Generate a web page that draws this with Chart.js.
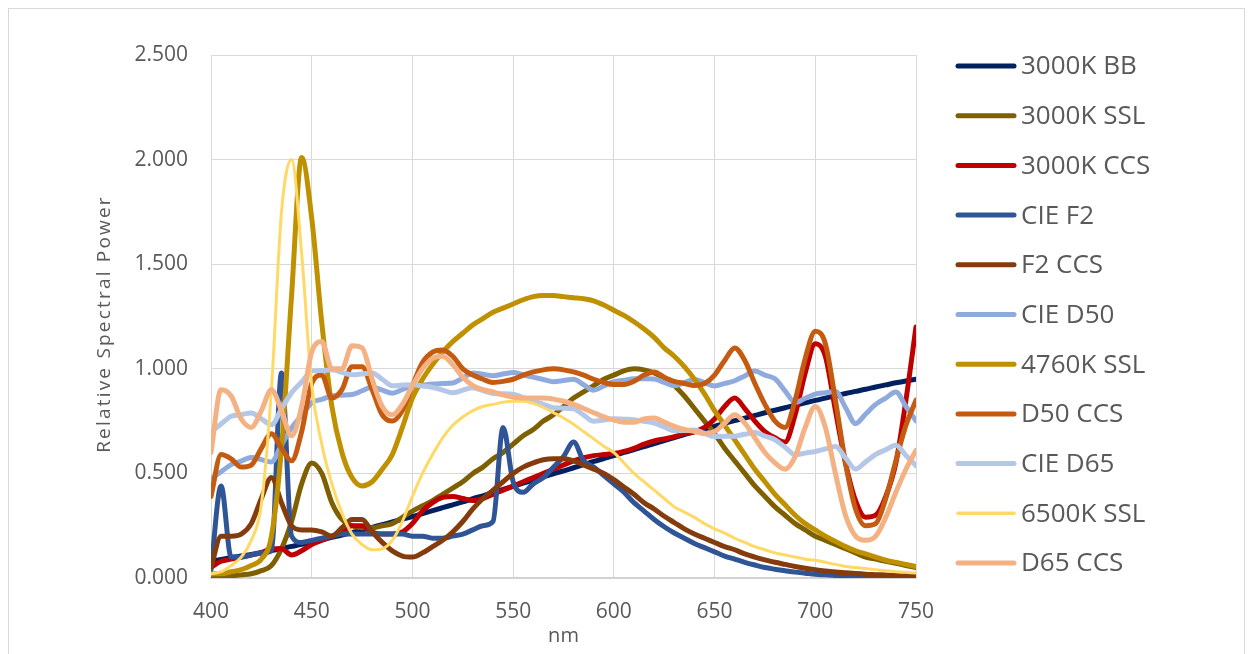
<!DOCTYPE html>
<html>
<head>
<meta charset="utf-8">
<script src="https://cdn.jsdelivr.net/npm/chart.js@4.4.1/dist/chart.umd.min.js"></script>
<style>
  html, body { margin: 0; padding: 0; background: #ffffff; }
  #wrap { position: relative; width: 1252px; height: 654px; overflow: hidden; background: #ffffff; }
  #frame { position: absolute; left: 8px; top: 8px; width: 1237px; height: 700px; border: 1px solid #D9D9D9; box-sizing: border-box; }
  #c { position: absolute; left: 0; top: 0; }
</style>
</head>
<body>
<div id="wrap">
  <div id="frame"></div>
  <canvas id="c" width="1252" height="654"></canvas>
</div>
<script>
// Wavelength grid (nm)
const wavelengths = [
  400,405,410,415,420,425,430,435,440,445,
  450,455,460,465,470,475,480,485,490,495,
  500,505,510,515,520,525,530,535,540,545,
  550,555,560,565,570,575,580,585,590,595,
  600,605,610,615,620,625,630,635,640,645,
  650,655,660,665,670,675,680,685,690,695,
  700,705,710,715,720,725,730,735,740,745,
  750
];

// Relative spectral power of each source
const bb3000 = [
  0.082,0.089,0.097,0.105,0.113,0.122,0.131,0.141,0.151,0.161,
  0.172,0.183,0.194,0.205,0.217,0.229,0.242,0.255,0.268,0.281,
  0.294,0.308,0.322,0.336,0.350,0.364,0.379,0.393,0.408,0.423,
  0.438,0.453,0.468,0.483,0.498,0.512,0.527,0.542,0.557,0.571,
  0.585,0.600,0.614,0.628,0.643,0.657,0.671,0.685,0.699,0.712,
  0.725,0.739,0.752,0.764,0.777,0.790,0.802,0.814,0.826,0.837,
  0.849,0.860,0.871,0.882,0.892,0.902,0.913,0.923,0.933,0.942,
  0.950
];
const ssl3000 = [
  0.002,0.005,0.010,0.015,0.020,0.035,0.060,0.140,0.270,0.450,
  0.550,0.500,0.360,0.280,0.250,0.240,0.240,0.250,0.260,0.290,
  0.320,0.345,0.370,0.400,0.430,0.460,0.500,0.530,0.570,0.600,
  0.640,0.680,0.710,0.750,0.780,0.820,0.860,0.890,0.920,0.950,
  0.970,0.990,1.000,0.995,0.980,0.955,0.920,0.870,0.810,0.750,
  0.690,0.620,0.560,0.500,0.440,0.390,0.340,0.300,0.260,0.230,
  0.200,0.180,0.160,0.140,0.120,0.100,0.090,0.080,0.070,0.060,
  0.050
];
const ccs3000 = [
  0.050,0.080,0.090,0.100,0.110,0.120,0.140,0.140,0.110,0.130,
  0.160,0.180,0.200,0.220,0.250,0.250,0.220,0.210,0.210,0.220,
  0.260,0.320,0.360,0.385,0.390,0.380,0.370,0.380,0.400,0.420,
  0.440,0.460,0.480,0.500,0.520,0.540,0.560,0.575,0.585,0.590,
  0.595,0.605,0.620,0.640,0.655,0.665,0.675,0.690,0.700,0.720,
  0.760,0.820,0.860,0.810,0.750,0.700,0.670,0.650,0.780,0.980,
  1.120,1.060,0.800,0.550,0.370,0.290,0.300,0.390,0.550,0.850,
  1.200
];
const cieF2 = [
  0.040,0.440,0.100,0.100,0.110,0.120,0.130,0.980,0.200,0.170,
  0.180,0.190,0.200,0.210,0.210,0.210,0.210,0.210,0.210,0.210,
  0.200,0.200,0.190,0.190,0.200,0.210,0.230,0.250,0.270,0.720,
  0.460,0.410,0.450,0.480,0.530,0.580,0.650,0.560,0.530,0.490,
  0.450,0.410,0.360,0.320,0.280,0.245,0.215,0.190,0.165,0.145,
  0.125,0.105,0.090,0.075,0.062,0.050,0.042,0.035,0.028,0.023,
  0.018,0.015,0.012,0.010,0.008,0.007,0.006,0.005,0.004,0.004,
  0.003
];
const f2Ccs = [
  0.050,0.200,0.200,0.210,0.260,0.380,0.480,0.360,0.250,0.230,
  0.230,0.220,0.200,0.240,0.280,0.280,0.220,0.170,0.130,0.105,
  0.100,0.120,0.150,0.180,0.220,0.270,0.330,0.380,0.420,0.460,
  0.500,0.530,0.550,0.565,0.570,0.570,0.560,0.540,0.520,0.500,
  0.470,0.435,0.400,0.360,0.330,0.295,0.265,0.235,0.210,0.190,
  0.170,0.150,0.135,0.115,0.100,0.087,0.075,0.065,0.055,0.047,
  0.040,0.034,0.029,0.025,0.021,0.018,0.016,0.014,0.012,0.011,
  0.010
];
const cieD50 = [
  0.473,0.508,0.542,0.559,0.576,0.566,0.555,0.637,0.718,0.778,
  0.838,0.854,0.870,0.874,0.877,0.895,0.913,0.898,0.883,0.901,
  0.919,0.923,0.927,0.930,0.932,0.956,0.980,0.974,0.967,0.975,
  0.982,0.971,0.960,0.949,0.938,0.944,0.950,0.924,0.898,0.918,
  0.938,0.945,0.953,0.952,0.951,0.935,0.919,0.934,0.949,0.934,
  0.918,0.930,0.943,0.966,0.989,0.970,0.952,0.895,0.839,0.859,
  0.879,0.886,0.892,0.815,0.738,0.784,0.830,0.860,0.889,0.820,
  0.751
];
const ssl4760 = [
  0.020,0.020,0.030,0.040,0.060,0.090,0.200,0.620,1.350,2.010,
  1.720,1.220,0.820,0.600,0.480,0.440,0.460,0.520,0.590,0.720,
  0.860,0.950,1.020,1.080,1.130,1.170,1.210,1.240,1.270,1.290,
  1.310,1.330,1.345,1.350,1.350,1.345,1.340,1.335,1.325,1.305,
  1.280,1.255,1.225,1.190,1.150,1.100,1.060,1.010,0.950,0.880,
  0.800,0.730,0.660,0.590,0.520,0.460,0.400,0.350,0.300,0.260,
  0.230,0.200,0.175,0.150,0.130,0.115,0.100,0.085,0.075,0.065,
  0.055
];
const d50Ccs = [
  0.390,0.590,0.570,0.530,0.540,0.620,0.690,0.620,0.560,0.700,
  0.930,0.970,0.860,0.900,1.010,1.010,0.900,0.780,0.750,0.800,
  0.920,1.030,1.080,1.090,1.060,1.000,0.970,0.950,0.935,0.940,
  0.950,0.970,0.985,0.995,1.000,0.995,0.985,0.970,0.950,0.935,
  0.925,0.925,0.940,0.970,0.985,0.960,0.940,0.930,0.920,0.930,
  0.970,1.040,1.100,1.040,0.930,0.830,0.750,0.720,0.850,1.050,
  1.180,1.120,0.850,0.550,0.330,0.250,0.260,0.380,0.560,0.730,
  0.850
];
const cieD65 = [
  0.699,0.736,0.773,0.781,0.789,0.761,0.732,0.809,0.886,0.937,
  0.989,0.992,0.995,0.983,0.971,0.975,0.980,0.950,0.919,0.922,
  0.924,0.918,0.911,0.898,0.885,0.898,0.910,0.896,0.882,0.881,
  0.879,0.862,0.845,0.830,0.814,0.812,0.809,0.779,0.749,0.755,
  0.761,0.759,0.757,0.749,0.741,0.722,0.704,0.705,0.707,0.692,
  0.676,0.677,0.678,0.687,0.695,0.678,0.661,0.625,0.589,0.597,
  0.605,0.617,0.628,0.574,0.521,0.555,0.591,0.613,0.635,0.586,
  0.537
];
const ssl6500 = [
  0.020,0.030,0.060,0.100,0.180,0.350,0.900,1.750,2.000,1.550,
  0.920,0.640,0.450,0.310,0.210,0.160,0.135,0.140,0.180,0.270,
  0.390,0.500,0.590,0.670,0.730,0.770,0.800,0.820,0.830,0.840,
  0.845,0.845,0.835,0.815,0.790,0.765,0.735,0.700,0.665,0.630,
  0.600,0.550,0.500,0.460,0.420,0.380,0.340,0.315,0.290,0.260,
  0.235,0.215,0.190,0.170,0.150,0.135,0.120,0.110,0.100,0.090,
  0.085,0.075,0.065,0.055,0.050,0.045,0.040,0.035,0.030,0.027,
  0.024
];
const d65Ccs = [
  0.600,0.900,0.870,0.760,0.720,0.800,0.900,0.800,0.680,0.820,
  1.080,1.130,1.000,1.000,1.110,1.100,0.950,0.820,0.780,0.830,
  0.920,1.000,1.050,1.060,1.020,0.960,0.920,0.900,0.890,0.875,
  0.865,0.860,0.860,0.860,0.855,0.845,0.830,0.810,0.790,0.770,
  0.755,0.745,0.745,0.760,0.765,0.745,0.725,0.710,0.700,0.690,
  0.700,0.740,0.780,0.740,0.670,0.600,0.550,0.520,0.580,0.720,
  0.820,0.720,0.500,0.300,0.200,0.180,0.200,0.290,0.410,0.520,
  0.610
];

const seriesNames = ['3000K BB','3000K SSL','3000K CCS','CIE F2','F2 CCS','CIE D50',
                     '4760K SSL','D50 CCS','CIE D65','6500K SSL','D65 CCS'];
const seriesValues = [bb3000, ssl3000, ccs3000, cieF2, f2Ccs, cieD50,
                      ssl4760, d50Ccs, cieD65, ssl6500, d65Ccs];

// Styling
const seriesColors = ['#002060','#7F6000','#C00000','#2F5597','#843C0C','#8FAADC',
                      '#BF9000','#C55A11','#B4C7E7','#FFD966','#F4B183'];
const seriesWidths = [5,5,5,5,5,5,5,5,5,3,5];

const xTicks = { min: 400, max: 750, step: 50 };
const yTicks = { min: 0, max: 2.5, step: 0.5 };

const textColor = '#595959';
const gridColor = '#D9D9D9';
const fontFamily = '"Open Sans", "DejaVu Sans", sans-serif';

// Legend at the right, one row per series
const legendPlugin = {
  id: 'sideLegend',
  afterDraw(chart) {
    const ctx = chart.ctx;
    const x0 = 958, x1 = 1014, textX = 1021, firstY = 66, rowGap = 49.7;
    ctx.save();
    ctx.font = '26px ' + fontFamily;
    ctx.textBaseline = 'middle';
    ctx.textAlign = 'left';
    chart.data.datasets.forEach((ds, i) => {
      const y = firstY + i * rowGap;
      ctx.strokeStyle = ds.borderColor;
      ctx.lineWidth = ds.borderWidth < 4 ? 3.5 : 5;
      ctx.lineCap = 'round';
      ctx.beginPath();
      ctx.moveTo(x0, y);
      ctx.lineTo(x1, y);
      ctx.stroke();
      ctx.fillStyle = textColor;
      ctx.fillText(ds.label, textX, y + 1);
    });
    ctx.restore();
  }
};

// Rotated y-axis title with letter spacing
const yTitlePlugin = {
  id: 'yTitle',
  afterDraw(chart) {
    const ctx = chart.ctx;
    ctx.save();
    ctx.translate(105, 324);
    ctx.rotate(-Math.PI / 2);
    ctx.font = '19px ' + fontFamily;
    if ('letterSpacing' in ctx) ctx.letterSpacing = '2.2px';
    ctx.fillStyle = textColor;
    ctx.textAlign = 'center';
    ctx.textBaseline = 'middle';
    ctx.fillText('Relative Spectral Power', 0, 0);
    ctx.restore();
  }
};

const datasets = seriesNames.map((name, i) => ({
  label: name,
  data: wavelengths.map((w, j) => ({ x: w, y: seriesValues[i][j] })),
  borderColor: seriesColors[i],
  backgroundColor: seriesColors[i],
  borderWidth: seriesWidths[i],
  pointRadius: 0,
  pointHoverRadius: 0,
  fill: false,
  cubicInterpolationMode: 'monotone',
  borderJoinStyle: 'round',
  borderCapStyle: 'round',
  order: seriesNames.length - i
}));

new Chart(document.getElementById('c'), {
  type: 'line',
  data: { datasets },
  options: {
    responsive: false,
    animation: false,
    events: [],
    layout: { padding: { left: 0, right: 336, top: 55, bottom: 0 } },
    plugins: { legend: { display: false }, tooltip: { enabled: false } },
    scales: {
      x: {
        type: 'linear',
        min: xTicks.min, max: xTicks.max,
        ticks: { stepSize: xTicks.step, color: textColor, font: { family: fontFamily, size: 21 }, padding: 21,
                 callback: v => String(v) },
        grid: { color: gridColor, lineWidth: 1, drawTicks: false },
        border: { color: '#D0D0D0', width: 1.5 },
        title: { display: true, text: 'nm', color: textColor, font: { family: fontFamily, size: 20 },
                 padding: { top: 0, bottom: 6 } },
        afterFit(scale) { scale.height = 76; }
      },
      y: {
        min: yTicks.min, max: yTicks.max,
        ticks: { stepSize: yTicks.step, color: textColor, font: { family: fontFamily, size: 21 }, padding: 23,
                 callback: v => Number(v).toFixed(3) },
        grid: { color: gridColor, lineWidth: 1, drawTicks: false },
        border: { display: false },
        afterFit(scale) { scale.width = 211; }
      }
    }
  },
  plugins: [legendPlugin, yTitlePlugin]
});
</script>
</body>
</html>
